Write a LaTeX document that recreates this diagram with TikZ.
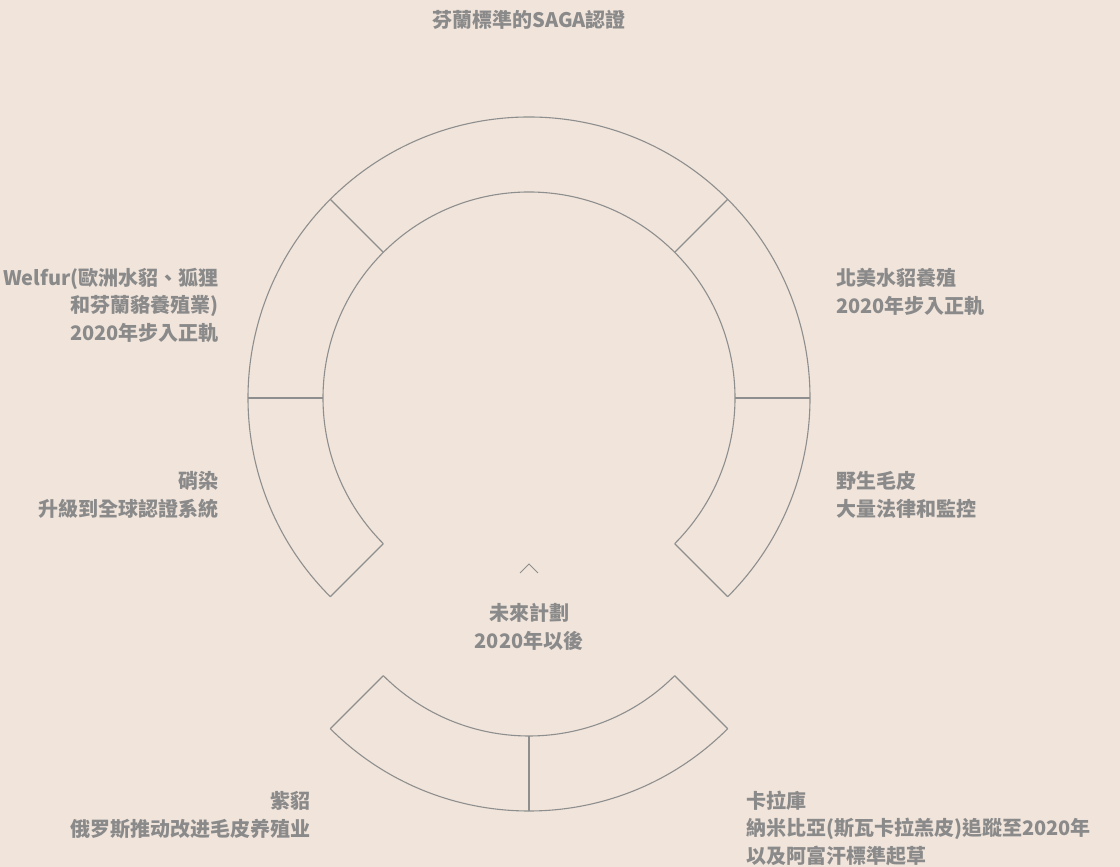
\documentclass[tikz,border=0pt]{standalone}
\usepackage{fontspec}
\setmainfont{Noto Sans CJK TC}
\definecolor{paper}{HTML}{F0E4DB}
\definecolor{ringline}{HTML}{8E8E8E}
\definecolor{labeltext}{HTML}{8A8A8A}
\tikzstyle{ring} = [draw=ringline,line width=1.1pt]
\tikzstyle{label} = [text=labeltext,font=\fontsize{20}{27.5}\selectfont\bfseries,inner sep=0pt]

\begin{document}
\begin{tikzpicture}[x=1pt,y=1pt]
\def\Ro{281pt}
\def\Ri{206pt}
\fill[paper] (0,0) rectangle (1120,867);
\useasboundingbox (0,0) rectangle (1120,867);
\coordinate (C) at (529,469);
\coordinate (Cb) at (529,337);
% upper ring
\draw[ring] ([shift={(225:\Ro)}]C) arc[start angle=225,end angle=-45,radius=\Ro];
\draw[ring] ([shift={(225:\Ri)}]C) arc[start angle=225,end angle=-45,radius=\Ri];
\foreach \a in {225,180,135,45,0,-45}{
    \draw[ring] ([shift={(\a:\Ri)}]C) -- ([shift={(\a:\Ro)}]C);
}
% lower piece
\draw[ring] ([shift={(225:\Ro)}]Cb) arc[start angle=225,end angle=315,radius=\Ro];
\draw[ring] ([shift={(225:\Ri)}]Cb) arc[start angle=225,end angle=315,radius=\Ri];
\foreach \a in {225,270,315}{
    \draw[ring] ([shift={(\a:\Ri)}]Cb) -- ([shift={(\a:\Ro)}]Cb);
}
\draw[ringline,line width=0.9pt] (520,294) -- (529,303) -- (538,294);
\node[label] at (529,847) (title) {芬蘭標準的SAGA認證};
\node[label,anchor=east,align=right] at (219,562) (welfur) {Welfur(歐洲水貂、狐狸\\和芬蘭貉養殖業)\\2020年步入正軌};
\node[label,anchor=west,align=left] at (836,575) (mink) {北美水貂養殖\\2020年步入正軌};
\node[label,anchor=east,align=right] at (219,372) (dye) {硝染\\升級到全球認證系統};
\node[label,anchor=west,align=left] at (836,372) (wild) {野生毛皮\\大量法律和監控};
\node[label,align=center] at (529,240) (future) {未來計劃\\2020年以後};
\node[label,anchor=east,align=right] at (311,52) (sable) {紫貂\\俄罗斯推动改进毛皮养殖业};
\node[label,anchor=west,align=left] at (746,39) (karakul) {卡拉庫\\納米比亞(斯瓦卡拉羔皮)追蹤至2020年\\以及阿富汗標準起草};
\end{tikzpicture}
\end{document}
